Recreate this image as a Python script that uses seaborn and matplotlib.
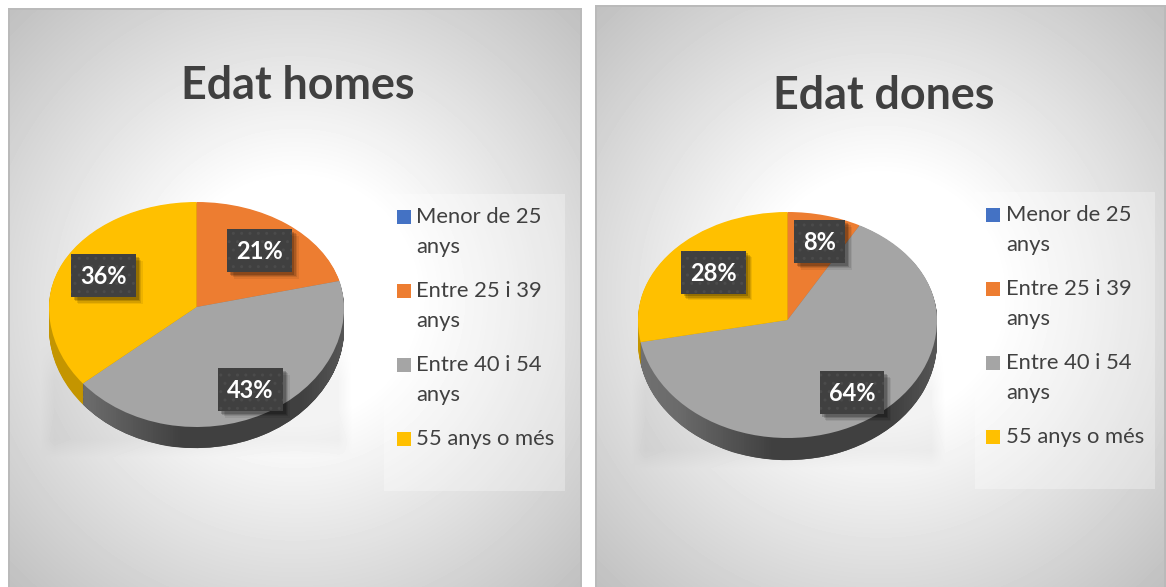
import numpy as np
import seaborn as sns
import matplotlib.pyplot as plt
from matplotlib.patches import Rectangle, PathPatch
from matplotlib.path import Path
from matplotlib import patheffects as pe

categories = ['Menor de 25\nanys', 'Entre 25 i 39\nanys', 'Entre 40 i 54\nanys', '55 anys o més']
homes = [0, 21, 43, 36]
dones = [0, 8, 64, 28]
titles = ['Edat homes', 'Edat dones']
colors = ['#4472C4', '#ED7D31', '#A5A5A5', '#FFC000']
side_colors = ['#2f5597', '#b85f20', '#454545', '#C49500']

W, H = 1166, 587
sns.set_theme(style='white')
plt.rcParams['font.family'] = ['Lato', 'DejaVu Sans']
palette = sns.color_palette(colors)


class BoxShadow(pe.AbstractPathEffect):
    # like SimplePatchShadow but without the hatch of the box
    def __init__(self, offset, alpha):
        super().__init__(offset=offset)
        self.alpha = alpha

    def draw_path(self, renderer, gc, tpath, affine, rgbFace):
        gc0 = renderer.new_gc()
        gc0.copy_properties(gc)
        gc0.set_hatch(None)
        gc0.set_alpha(self.alpha)
        gc0.set_linewidth(0)
        renderer.draw_path(gc0, tpath, affine + self._offset_transform(renderer), (0, 0, 0))
        gc0.restore()


def panel_background(img, x0, x1, y0, shadow):
    yy, xx = np.mgrid[0:H, x0:x1]
    cx, cy = (x0 + x1) / 2, y0 + 290
    r = np.hypot(xx - cx, yy - cy)
    v = np.clip(255 - 0.22 * (r - 120), 0, 255)
    # soft shadow under the pie
    sx0, sx1, sy0, sy1 = shadow
    mx = np.clip((xx - sx0) / 14, 0, 1) * np.clip((sx1 - xx) / 14, 0, 1)
    my = np.clip((yy - sy0) / 50, 0, 1) * np.clip((sy1 - yy) / 18, 0, 1)
    v = v - 11 * mx * my
    img[y0:H, x0:x1] = v[y0:H, :]
    img[y0:y0 + 2, x0:x1] = 186
    img[y0:H, x0:x0 + 2] = 186
    img[y0:H, x1 - 2:x1] = 186


def label_box(x0, y0, width, height, mutation_size=None):
    # more padding vertically than horizontally, like the data labels
    left, right = x0 - 9, x0 + width + 9
    low, high = y0 - 9, y0 + height + 11
    return Path([(left, low), (right, low), (right, high), (left, high), (left, low)], closed=True)


def draw_pie(fig, values, left, right, apex, up, down, depth, label_pos):
    rx = (right - left) / 2
    pad = 6
    step_total = depth / down
    y_low = -(1 + step_total) - 0.05
    y_high = 1.03
    top_px = apex - up * y_high
    bot_px = apex - down * y_low
    xm = 1 + pad / rx
    ax = fig.add_axes([(left - pad) / W, 1 - bot_px / H, (right - left + 2 * pad) / W, (bot_px - top_px) / H])
    ax.set_zorder(2)

    # side of the disc: the same pie stacked downwards
    n = 24
    grey_paths = []
    for i in range(n, 0, -1):
        wedges, _ = ax.pie(values, colors=side_colors, startangle=90, counterclock=False,
                           center=(0, -step_total * i / n), wedgeprops={'zorder': 1, 'linewidth': 0})
        grey_paths.append(wedges[2].get_path())

    wedges, _, autotexts = ax.pie(values, colors=palette, startangle=90, counterclock=False,
                                  autopct=lambda p: f'{p:.0f}%' if p > 0 else '',
                                  wedgeprops={'zorder': 3, 'linewidth': 0},
                                  textprops={'color': 'white', 'fontsize': 17, 'fontweight': 'bold', 'zorder': 6})
    ax.set_aspect('auto')
    ax.set_yscale('function', functions=(lambda y: np.where(y >= 0, y * up, y * down),
                                         lambda p: np.where(p >= 0, p / up, p / down)))
    ax.set_xlim(-xm, xm)
    ax.set_ylim(y_low, y_high)
    ax.axis('off')

    # light to dark along the grey side
    clip = PathPatch(Path.make_compound_path(*grey_paths), transform=ax.transData)
    xs = np.linspace(-1, 1, 120)
    ramp = np.interp(xs, [-1, -0.75, -0.1, 0.7, 1], [0.44, 0.42, 0.25, 0.25, 0.34])
    ys = np.array([y_low, y_high])
    mesh = ax.pcolormesh(xs, ys, np.tile(ramp[:-1], (1, 1)), cmap='gray', vmin=0, vmax=1,
                         shading='flat', zorder=2, rasterized=True)
    mesh.set_clip_path(clip)

    for t, pos in zip(autotexts, label_pos):
        if pos is None:
            continue
        t.set_position(pos)
        t.set_ha('center')
        t.set_va('center')
        t.set_bbox(dict(boxstyle=label_box, facecolor='#404040', edgecolor='#4b4b4b',
                        hatch='..', linewidth=0))
        t.get_bbox_patch().set_path_effects([BoxShadow((5, -5), 0.07), BoxShadow((4, -4), 0.1),
                                             BoxShadow((3, -3), 0.14), BoxShadow((2, -2), 0.18),
                                             pe.Normal()])
    return ax


def draw_legend(ax, box, handle_x, text_x, rows):
    ax.add_patch(Rectangle((box[0], box[2]), box[1] - box[0], box[3] - box[2],
                           facecolor='white', alpha=0.3, linewidth=0))
    for label, color, y in zip(categories, palette, rows):
        ax.add_patch(Rectangle((handle_x, y - 7), 14, 14, facecolor=color, linewidth=0))
        for k, line in enumerate(label.split('\n')):
            ax.text(text_x, y + k * 30, line, fontsize=15.8, color='#404040', va='center', ha='left')


fig = plt.figure(figsize=(W / 100, H / 100), dpi=100, facecolor='white')

img = np.full((H, W), 255.0)
panel_background(img, 8, 582, 8, (40, 352, 330, 457))
panel_background(img, 595, 1166, 5, (631, 945, 340, 468))

bg = fig.add_axes([0, 0, 1, 1])
bg.imshow(img, cmap='gray', vmin=0, vmax=255, extent=(0, W, H, 0), aspect='auto', interpolation='bilinear')
bg.set_xlim(0, W)
bg.set_ylim(H, 0)
bg.axis('off')

bg.text(298, 86, titles[0], fontsize=32.3, fontweight='bold', color='#404040', ha='center', va='center')
bg.text(884, 96, titles[1], fontsize=32.3, fontweight='bold', color='#404040', ha='center', va='center')

draw_legend(bg, (384, 565, 194, 491), 397, 416, [217, 291, 365, 439])
draw_legend(bg, (975, 1155, 192, 489), 986, 1006, [215, 289, 363, 437])

draw_pie(fig, homes, 49, 344, 307, 105, 120, 21,
         [None, (0.426, 0.53), (0.366, -0.695), (-0.63, 0.29)])
draw_pie(fig, dones, 638, 937, 320, 108, 118, 22,
         [None, (0.215, 0.72), (0.43, -0.625), (-0.497, 0.435)])

fig.savefig('out.png', dpi=100, facecolor='white')
